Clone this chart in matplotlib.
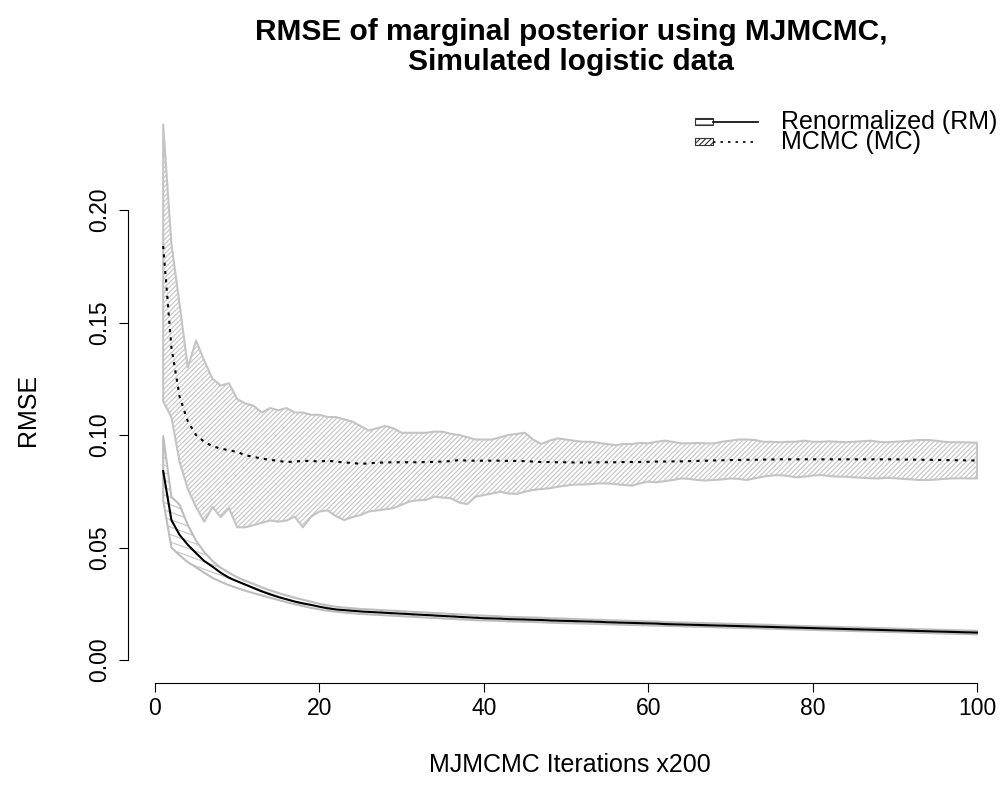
import numpy as np
import matplotlib
matplotlib.use("Agg")
import matplotlib.pyplot as plt
from matplotlib.collections import LineCollection
from matplotlib.patches import Rectangle
from matplotlib.lines import Line2D

plt.rcParams['font.family'] = ['Liberation Sans', 'DejaVu Sans']
plt.rcParams['hatch.color'] = '#a8a8a8'
plt.rcParams['hatch.linewidth'] = 0.8

# MJMCMC iterations (x200)
iters = np.arange(1, 101)

# Renormalized (RM) estimate: mean and band
rm_mean = [0.0840, 0.0622, 0.0556, 0.0512, 0.0475, 0.0440, 0.0415, 0.0388, 0.0366, 0.0350,
           0.0335, 0.0320, 0.0305, 0.0292, 0.0280, 0.0270, 0.0260, 0.0252, 0.0245, 0.0237,
           0.0230, 0.0225, 0.0222, 0.0219, 0.0216, 0.0214, 0.0212, 0.0210, 0.0208, 0.0206,
           0.0204, 0.0202, 0.0200, 0.0198, 0.0196, 0.0194, 0.0192, 0.0190, 0.0188, 0.0186,
           0.0185, 0.0184, 0.0182, 0.0181, 0.0180, 0.0179, 0.0178, 0.0176, 0.0175, 0.0174,
           0.0173, 0.0172, 0.0171, 0.0170, 0.0168, 0.0167, 0.0166, 0.0165, 0.0164, 0.0163,
           0.0162, 0.0160, 0.0159, 0.0158, 0.0157, 0.0156, 0.0155, 0.0154, 0.0153, 0.0152,
           0.0151, 0.0150, 0.0149, 0.0148, 0.0147, 0.0146, 0.0145, 0.0144, 0.0143, 0.0142,
           0.0141, 0.0140, 0.0139, 0.0138, 0.0137, 0.0136, 0.0135, 0.0134, 0.0133, 0.0132,
           0.0131, 0.0130, 0.0129, 0.0128, 0.0127, 0.0126, 0.0125, 0.0124, 0.0123, 0.0122]
rm_upper = [0.0995, 0.0725, 0.0690, 0.0600, 0.0530, 0.0480, 0.0440, 0.0410, 0.0388, 0.0368,
            0.0352, 0.0338, 0.0323, 0.0310, 0.0298, 0.0287, 0.0277, 0.0268, 0.0259, 0.0250,
            0.0243, 0.0237, 0.0233, 0.0230, 0.0227, 0.0225, 0.0223, 0.0221, 0.0219, 0.0217,
            0.0215, 0.0213, 0.0211, 0.0209, 0.0207, 0.0205, 0.0203, 0.0201, 0.0199, 0.0197,
            0.0196, 0.0194, 0.0192, 0.0191, 0.0190, 0.0189, 0.0188, 0.0186, 0.0185, 0.0184,
            0.0182, 0.0181, 0.0180, 0.0179, 0.0177, 0.0176, 0.0175, 0.0174, 0.0173, 0.0172,
            0.0171, 0.0169, 0.0168, 0.0167, 0.0166, 0.0165, 0.0164, 0.0163, 0.0162, 0.0161,
            0.0160, 0.0159, 0.0158, 0.0157, 0.0156, 0.0154, 0.0153, 0.0152, 0.0151, 0.0150,
            0.0149, 0.0148, 0.0147, 0.0146, 0.0145, 0.0144, 0.0143, 0.0142, 0.0141, 0.0140,
            0.0139, 0.0138, 0.0137, 0.0136, 0.0135, 0.0134, 0.0133, 0.0132, 0.0131, 0.0130]
rm_lower = [0.0710, 0.0500, 0.0465, 0.0435, 0.0412, 0.0388, 0.0365, 0.0348, 0.0333, 0.0320,
            0.0308, 0.0297, 0.0287, 0.0277, 0.0267, 0.0257, 0.0248, 0.0240, 0.0232, 0.0225,
            0.0219, 0.0215, 0.0211, 0.0208, 0.0205, 0.0203, 0.0201, 0.0199, 0.0197, 0.0195,
            0.0193, 0.0191, 0.0189, 0.0187, 0.0185, 0.0183, 0.0181, 0.0179, 0.0177, 0.0176,
            0.0175, 0.0174, 0.0172, 0.0171, 0.0170, 0.0169, 0.0168, 0.0166, 0.0165, 0.0164,
            0.0163, 0.0162, 0.0161, 0.0160, 0.0159, 0.0158, 0.0157, 0.0156, 0.0155, 0.0154,
            0.0153, 0.0152, 0.0151, 0.0150, 0.0149, 0.0148, 0.0147, 0.0146, 0.0145, 0.0144,
            0.0143, 0.0142, 0.0141, 0.0140, 0.0139, 0.0138, 0.0137, 0.0136, 0.0135, 0.0134,
            0.0133, 0.0132, 0.0131, 0.0130, 0.0129, 0.0128, 0.0127, 0.0126, 0.0125, 0.0124,
            0.0123, 0.0122, 0.0121, 0.0120, 0.0119, 0.0118, 0.0117, 0.0116, 0.0115, 0.0114]

# MCMC (MC) estimate: mean and band
mc_mean = [0.1840, 0.1390, 0.1170, 0.1060, 0.1000, 0.0970, 0.0950, 0.0940, 0.0932, 0.0925,
           0.0910, 0.0903, 0.0895, 0.0890, 0.0885, 0.0880, 0.0882, 0.0885, 0.0885, 0.0882,
           0.0886, 0.0882, 0.0878, 0.0876, 0.0872, 0.0874, 0.0877, 0.0878, 0.0879, 0.0879,
           0.0879, 0.0879, 0.0880, 0.0881, 0.0882, 0.0884, 0.0889, 0.0886, 0.0886, 0.0886,
           0.0886, 0.0886, 0.0885, 0.0885, 0.0884, 0.0882, 0.0880, 0.0880, 0.0879, 0.0879,
           0.0878, 0.0878, 0.0878, 0.0879, 0.0879, 0.0879, 0.0880, 0.0880, 0.0880, 0.0881,
           0.0882, 0.0882, 0.0883, 0.0883, 0.0884, 0.0885, 0.0886, 0.0887, 0.0888, 0.0889,
           0.0889, 0.0890, 0.0890, 0.0891, 0.0891, 0.0892, 0.0892, 0.0892, 0.0892, 0.0892,
           0.0892, 0.0892, 0.0892, 0.0892, 0.0892, 0.0892, 0.0892, 0.0892, 0.0892, 0.0892,
           0.0891, 0.0891, 0.0890, 0.0890, 0.0889, 0.0889, 0.0888, 0.0888, 0.0887, 0.0887]
mc_upper = [0.2380, 0.1850, 0.1580, 0.1300, 0.1420, 0.1330, 0.1250, 0.1220, 0.1230, 0.1160,
            0.1140, 0.1130, 0.1100, 0.1120, 0.1110, 0.1120, 0.1100, 0.1100, 0.1090, 0.1090,
            0.1080, 0.1080, 0.1070, 0.1060, 0.1040, 0.1020, 0.1030, 0.1040, 0.1030, 0.1010,
            0.1010, 0.1010, 0.1010, 0.1015, 0.1015, 0.1005, 0.1000, 0.0990, 0.0980, 0.0980,
            0.0980, 0.0990, 0.1000, 0.1005, 0.1010, 0.0980, 0.0960, 0.0975, 0.0985, 0.0980,
            0.0975, 0.0970, 0.0970, 0.0965, 0.0960, 0.0955, 0.0960, 0.0960, 0.0965, 0.0963,
            0.0970, 0.0975, 0.0970, 0.0963, 0.0963, 0.0965, 0.0963, 0.0963, 0.0970, 0.0975,
            0.0980, 0.0980, 0.0978, 0.0970, 0.0970, 0.0968, 0.0970, 0.0970, 0.0975, 0.0970,
            0.0970, 0.0972, 0.0970, 0.0968, 0.0970, 0.0972, 0.0975, 0.0970, 0.0968, 0.0970,
            0.0972, 0.0975, 0.0978, 0.0978, 0.0975, 0.0970, 0.0968, 0.0968, 0.0967, 0.0966]
mc_lower = [0.1150, 0.1080, 0.0880, 0.0760, 0.0680, 0.0615, 0.0680, 0.0635, 0.0675, 0.0590,
            0.0590, 0.0600, 0.0610, 0.0620, 0.0615, 0.0620, 0.0637, 0.0590, 0.0637, 0.0660,
            0.0665, 0.0640, 0.0622, 0.0635, 0.0644, 0.0660, 0.0665, 0.0670, 0.0675, 0.0690,
            0.0705, 0.0710, 0.0712, 0.0726, 0.0722, 0.0719, 0.0700, 0.0693, 0.0726, 0.0733,
            0.0740, 0.0748, 0.0740, 0.0738, 0.0748, 0.0756, 0.0760, 0.0763, 0.0770, 0.0775,
            0.0780, 0.0780, 0.0782, 0.0785, 0.0785, 0.0782, 0.0778, 0.0775, 0.0785, 0.0793,
            0.0790, 0.0795, 0.0800, 0.0807, 0.0805, 0.0800, 0.0798, 0.0800, 0.0803, 0.0807,
            0.0805, 0.0800, 0.0808, 0.0815, 0.0820, 0.0822, 0.0818, 0.0812, 0.0815, 0.0820,
            0.0822, 0.0818, 0.0815, 0.0815, 0.0812, 0.0810, 0.0808, 0.0807, 0.0810, 0.0808,
            0.0805, 0.0803, 0.0800, 0.0800, 0.0802, 0.0805, 0.0807, 0.0808, 0.0807, 0.0807]

W, H = 1003, 801
fig = plt.figure(figsize=(W / 100, H / 100), dpi=100)
ax = fig.add_axes([128 / W, 118 / H, (1000 - 128) / W, (703.5 - 118) / H])
ax.set_xlim(-3.28, 102.8)
ax.set_ylim(-0.0102, 0.25)


def hatch_band(x, lo, hi, angle, spacing, color, lw, edge):
    # shaded band with R-style density lines clipped to the polygon
    band = ax.fill_between(x, lo, hi, facecolor='none', edgecolor=edge,
                           linewidth=1.5, zorder=2)
    bb = ax.bbox
    th = np.deg2rad(angle)
    d = np.array([np.cos(th), np.sin(th)])
    n = np.array([-np.sin(th), np.cos(th)])
    corners = np.array([[bb.x0, bb.y0], [bb.x1, bb.y0], [bb.x0, bb.y1], [bb.x1, bb.y1]])
    proj = corners @ n
    L = np.hypot(bb.width, bb.height)
    c0 = np.array([bb.x0 + bb.x1, bb.y0 + bb.y1]) / 2
    inv = ax.transData.inverted()
    segs = []
    for o in np.arange(proj.min(), proj.max() + spacing, spacing):
        p = n * o + d * (c0 @ d)
        segs.append(inv.transform([p - d * L, p + d * L]))
    lc = LineCollection(segs, colors=color, linewidths=lw, zorder=1.5)
    lc.set_clip_path(band.get_paths()[0], ax.transData)
    ax.add_collection(lc, autolim=False)


hatch_band(iters, mc_lower, mc_upper, 45, 3.4, '#c9c9c9', 0.9, '#c4c4c4')
hatch_band(iters, rm_lower, rm_upper, -20, 7.0, '#c9c9c9', 0.9, '#bdbdbd')

ax.plot(iters, rm_mean, color='black', lw=1.5, zorder=3)
ax.plot(iters, mc_mean, color='black', lw=1.5, dashes=(1.5, 2.5), zorder=3)

for s in ['top', 'right']:
    ax.spines[s].set_visible(False)
ax.spines['left'].set_bounds(0, 0.2)
ax.spines['bottom'].set_bounds(0, 100)
ax.set_xticks([0, 20, 40, 60, 80, 100])
ax.set_yticks([0, 0.05, 0.10, 0.15, 0.20])
ax.set_yticklabels(['0.00', '0.05', '0.10', '0.15', '0.20'], rotation=90, va='center')
ax.tick_params(axis='both', length=6.5, width=0.8, labelsize=16.5)
ax.tick_params(axis='x', pad=3.5)
ax.tick_params(axis='y', pad=6)

fig.text(571 / W, 1 - 47 / H,
         'RMSE of marginal posterior using MJMCMC,\nSimulated logistic data',
         ha='center', va='center', fontsize=21.5, fontweight='bold', linespacing=1.1)
fig.text(570 / W, 1 - 765 / H, 'MJMCMC Iterations x200', ha='center', va='center', fontsize=18)
fig.text(28 / W, 1 - 410 / H, 'RMSE', ha='center', va='center', rotation=90, fontsize=18)

# legend, drawn by hand like R's legend(bty="n", density=...)
def px(x, y):
    return x / W, 1 - y / H

legend_rows = [('Renormalized (RM)', '---', 'solid', 121.5),
               ('MCMC (MC)', '//////', 'dotted', 141.5)]
for label, hatch, style, yc in legend_rows:
    x0, y0 = px(695, yc + 3.5)
    fig.patches.append(Rectangle((x0, y0), 18 / W, 7 / H, transform=fig.transFigure,
                                 facecolor='white', edgecolor='#333333', lw=0.8, hatch=hatch))
    xa, ya = px(713, yc)
    xb, _ = px(758, yc)
    ln = Line2D([xa, xb], [ya, ya], transform=fig.transFigure, color='black', lw=1.2)
    if style == 'dotted':
        ln.set_dashes((1.5, 3))
    fig.lines.append(ln)
    tx, ty = px(781, yc)
    fig.text(tx, ty, label, ha='left', va='center', fontsize=18)

fig.savefig('out.png', dpi=100)
